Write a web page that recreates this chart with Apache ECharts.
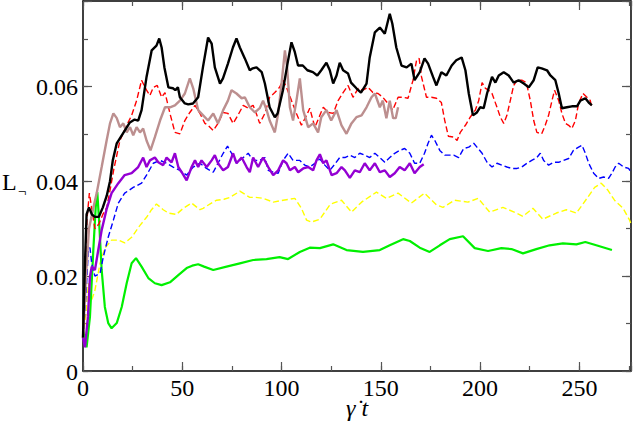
<!DOCTYPE html>
<html>
<head>
<meta charset="utf-8">
<script src="https://cdn.jsdelivr.net/npm/echarts@6/dist/echarts.min.js"></script>
</head>
<body style="margin:0;background:#fff">
<div id="c" style="width:634px;height:427px"></div>
<script>
// ---- data (x = gamma-dot t, y = L) ----
const blackData = [[0,0.007],[0.8,0.02],[1.8,0.033],[3,0.0345],[4.5,0.033],[6,0.0325],[8,0.0325],[10,0.0345],[12,0.037],[13.6,0.040],[15,0.0444],[17,0.048],[20,0.050],[23.6,0.0524],[26,0.053],[27.8,0.0528],[29.5,0.055],[32,0.062],[34.6,0.0676],[37,0.0686],[38.4,0.0701],[39.6,0.0682],[41,0.064],[43,0.0598],[45.3,0.0596],[46.5,0.0592],[47.8,0.0598],[48.8,0.0577],[51.3,0.0564],[53,0.0562],[55.4,0.0564],[58,0.0577],[60.4,0.064],[63,0.0703],[64.8,0.069],[66.4,0.064],[69,0.0606],[70.5,0.0617],[73,0.0648],[75.5,0.0682],[77.3,0.0701],[79,0.0682],[81.5,0.0659],[84,0.0634],[85.5,0.0638],[87.4,0.064],[90,0.063],[91.6,0.0606],[94,0.0556],[96.6,0.0535],[98,0.0543],[100.7,0.0592],[103,0.0648],[105,0.0693],[106.7,0.0672],[108.3,0.0644],[110.7,0.0644],[113,0.0634],[115.8,0.063],[118,0.0623],[120,0.0634],[122.6,0.065],[124.3,0.0634],[126,0.0606],[127.7,0.0623],[129.3,0.065],[131,0.0634],[133.5,0.0627],[135,0.0608],[137.7,0.0596],[140,0.0587],[142.8,0.0606],[144.4,0.0661],[147,0.0714],[149.5,0.0724],[152,0.0711],[154.5,0.0753],[155.8,0.0732],[157.8,0.0682],[160.4,0.0644],[163,0.064],[165.4,0.0648],[167,0.0613],[169.6,0.063],[172,0.0659],[173.8,0.0648],[176.3,0.062],[178,0.0602],[180.5,0.063],[183,0.0623],[185.7,0.0644],[188,0.0655],[190.7,0.0661],[192.6,0.0634],[194.3,0.0585],[196.4,0.0539],[198.4,0.0545],[200,0.0556],[201.8,0.0554],[203.5,0.0585],[206,0.062],[207.7,0.0608],[209.4,0.0623],[211.9,0.063],[214.4,0.0623],[216.9,0.0608],[219.4,0.0613],[222,0.0606],[224.5,0.0598],[227,0.0613],[229,0.064],[231,0.0638],[233.7,0.0634],[235.4,0.0623],[237.9,0.0613],[239.6,0.0585],[241.2,0.0554],[243.7,0.0556],[246.2,0.0558],[248.8,0.0558],[250.5,0.057],[253,0.0575],[254.7,0.0566],[256.3,0.056]];

const redData = [[0,0.008],[1,0.02],[2,0.032],[3.2,0.0375],[4.5,0.034],[6,0.030],[8,0.031],[10,0.033],[12,0.0345],[14,0.039],[15.5,0.0425],[18.6,0.0486],[22,0.0518],[24.5,0.0539],[27,0.057],[29.5,0.0613],[32,0.0592],[33.7,0.0581],[35.4,0.0598],[37.4,0.0602],[39.6,0.0577],[41.3,0.0587],[43.8,0.0543],[46.3,0.0503],[48.8,0.050],[51.3,0.0528],[53.8,0.0545],[56.4,0.056],[58.9,0.0543],[61.4,0.0522],[63,0.0518],[65.6,0.0507],[68,0.0522],[70.6,0.0545],[73,0.0543],[75.6,0.0522],[78,0.0539],[80.7,0.056],[83.2,0.0554],[85.7,0.056],[87.5,0.054],[89,0.0522],[91.6,0.0543],[94,0.0577],[96.6,0.0587],[99,0.0598],[100.8,0.0613],[102.5,0.0598],[105,0.057],[107.5,0.0543],[110,0.0518],[112.6,0.0539],[114.2,0.0554],[116.8,0.0514],[119.3,0.0539],[121,0.0556],[123.5,0.0545],[126,0.0543],[128.5,0.057],[131,0.0587],[133.5,0.0602],[136,0.0577],[138.6,0.0596],[141,0.0592],[143.6,0.0598],[146,0.0587],[148.6,0.0585],[151,0.0577],[153.6,0.0564],[156,0.055],[158.7,0.0577],[161.2,0.0577],[163.7,0.0575],[166.2,0.0613],[168,0.0655],[169.3,0.0659],[170.5,0.062],[173,0.0577],[175.5,0.0577],[178,0.0575],[180.5,0.0566],[182.2,0.0528],[184,0.0495],[186.7,0.0493],[188.4,0.0486],[190,0.0503],[192.6,0.0518],[195,0.0535],[197.6,0.055],[199.3,0.057],[201,0.0608],[202.7,0.0596],[204.3,0.0592],[206,0.0585],[208.5,0.0556],[210.2,0.0535],[211.9,0.0522],[213.5,0.0539],[215.2,0.057],[216.9,0.0602],[218.6,0.0613],[221,0.0613],[223.3,0.0608],[225.3,0.057],[227,0.0528],[228.6,0.0503],[231,0.050],[232.8,0.0518],[234.5,0.0539],[236.2,0.057],[237.5,0.0592],[239.6,0.057],[241.2,0.0543],[243,0.0522],[244.6,0.0518],[246.2,0.0511],[248,0.0528],[249.6,0.0564],[251.8,0.0585],[253.8,0.0577],[255.5,0.057],[256.3,0.0554]];

const brownData = [[0,0.007],[1.5,0.02],[3,0.03],[5,0.034],[6.9,0.0375],[9.4,0.043],[11.9,0.0486],[13.6,0.0522],[15.3,0.0543],[17,0.0533],[18.6,0.0514],[20.3,0.0522],[22,0.0503],[23.7,0.0514],[25.3,0.0497],[27,0.0514],[28.7,0.0503],[30.3,0.0511],[32,0.0486],[34,0.0465],[36.2,0.0493],[38.8,0.0528],[41.3,0.0556],[43.8,0.0556],[46.3,0.056],[48.8,0.057],[51.3,0.0585],[53.8,0.0617],[55.5,0.0596],[58,0.055],[60.5,0.0539],[63,0.0528],[65.6,0.0543],[68,0.0522],[70.6,0.055],[73,0.057],[74.8,0.0592],[77.3,0.0585],[79.9,0.0575],[81.5,0.0577],[84,0.0556],[86.6,0.0545],[89,0.0554],[90.7,0.057],[92.5,0.055],[94,0.0528],[96.6,0.0503],[98.3,0.0543],[100,0.0606],[101.7,0.0676],[102.8,0.064],[104.2,0.0556],[105.8,0.0528],[107.5,0.057],[109.2,0.0617],[110.9,0.055],[113.4,0.0514],[115.9,0.0522],[118.4,0.0503],[120,0.0535],[122.6,0.055],[125,0.0528],[127.7,0.055],[130.2,0.0518],[132.7,0.050],[135.2,0.0522],[137.7,0.0535],[140.3,0.0539],[142.8,0.0556],[145.3,0.0577],[147,0.0585],[149.5,0.0556],[151,0.057],[152.8,0.0533],[154.5,0.057],[156.2,0.0533],[157.5,0.0533],[158.7,0.0556]];

const purpleData = [[0,0.007],[1,0.005],[2.5,0.0114],[3.5,0.0198],[4.4,0.022],[6,0.0213],[7.7,0.0255],[9.4,0.0297],[12,0.0343],[14.4,0.0375],[17.8,0.0396],[21,0.0413],[24.5,0.0417],[27.8,0.043],[30.3,0.045],[32,0.043],[33.7,0.0444],[36.2,0.045],[37.9,0.044],[40.4,0.0434],[42.1,0.045],[44.6,0.044],[46.3,0.0459],[48,0.043],[49.7,0.0419],[52.2,0.0402],[54.7,0.043],[56.4,0.0444],[58,0.043],[59.7,0.0444],[62.3,0.043],[64.8,0.0444],[66.4,0.0455],[68,0.0438],[70.6,0.0423],[73,0.043],[75.6,0.0459],[77.3,0.0438],[79.9,0.045],[82.4,0.043],[84,0.0419],[85.7,0.045],[88.2,0.043],[90.7,0.045],[93.3,0.043],[95.8,0.0413],[98.3,0.0423],[100.8,0.0444],[102.5,0.0438],[104.2,0.0423],[106.7,0.043],[108.4,0.0419],[110.9,0.0427],[113.4,0.043],[115.9,0.0423],[117.6,0.0444],[119.3,0.0457],[121,0.0438],[122.6,0.0444],[125.2,0.0413],[127.7,0.0417],[130.2,0.043],[131.9,0.0423],[134.4,0.0407],[136.9,0.0423],[139.4,0.0419],[141.9,0.0438],[144.4,0.0423],[147,0.0438],[149.5,0.0419],[152,0.0423],[154.5,0.0409],[157,0.0417],[159.5,0.043],[162,0.0423],[164.6,0.0438],[167,0.0417],[169.6,0.043],[171.6,0.0436]];

const blueData = [[0,0.007],[1.5,0.016],[2.7,0.0255],[3.5,0.026],[4.4,0.0227],[6,0.020],[8.6,0.0206],[10.2,0.024],[12.7,0.0282],[15.3,0.0318],[17.8,0.0354],[21,0.0375],[25.3,0.0387],[29.5,0.0396],[32,0.0413],[35.4,0.0438],[38.8,0.0444],[42,0.0438],[45.4,0.043],[48.8,0.0423],[52.2,0.0413],[55.5,0.043],[58.9,0.0438],[62.2,0.0427],[65.6,0.0419],[68,0.0438],[70.6,0.0459],[72.8,0.0474],[74.8,0.0459],[77.3,0.0438],[80.7,0.045],[83.2,0.0459],[85.7,0.0444],[89,0.0444],[91.6,0.045],[93.3,0.0423],[95.8,0.0419],[98.3,0.0417],[100.8,0.0444],[103.3,0.0459],[105.8,0.0444],[109.2,0.0444],[111.7,0.0434],[114.2,0.043],[116.8,0.0438],[119.3,0.0447],[121.8,0.0434],[124.3,0.0423],[126.8,0.0436],[129.3,0.045],[131.9,0.045],[134.4,0.0455],[136.9,0.045],[139.4,0.0459],[141.9,0.0455],[144.4,0.045],[147,0.0459],[149.5,0.045],[152,0.044],[154.5,0.045],[157,0.0459],[159.5,0.0465],[162,0.0469],[164.6,0.0459],[167,0.0438],[169.6,0.0438],[172,0.0459],[173.8,0.048],[175.5,0.0497],[177.2,0.0486],[179.7,0.0465],[182.2,0.0455],[184.2,0.0455],[186.7,0.0455],[189.2,0.045],[191.7,0.0469],[194.3,0.0472],[196.8,0.048],[198.4,0.0472],[201,0.0459],[203.5,0.044],[206,0.043],[208.5,0.0438],[211,0.0434],[213.5,0.043],[216,0.0427],[218.6,0.0427],[221,0.043],[223.6,0.0438],[226,0.0444],[228.6,0.045],[230.3,0.0459],[232,0.0444],[234.5,0.0434],[237,0.044],[239.6,0.044],[242,0.0444],[244.6,0.0448],[247,0.0465],[249.6,0.0472],[251.3,0.0476],[253,0.0459],[254.7,0.0438],[257.2,0.0417],[259.7,0.0406],[262.2,0.0409],[264.7,0.0406],[266.4,0.0417],[268,0.043],[269.8,0.0438],[272.3,0.043],[274.8,0.0427],[276,0.0419]];

const yellowData = [[0,0.007],[1.5,0.012],[2.7,0.0185],[4.4,0.015],[6,0.017],[8.6,0.0227],[11,0.0259],[14.4,0.0276],[17.8,0.0276],[21,0.027],[24.5,0.0282],[28.7,0.0307],[32,0.0324],[34.5,0.034],[37,0.0352],[40.4,0.034],[43,0.0333],[47,0.033],[50.5,0.0343],[54.7,0.0354],[58.9,0.034],[60.5,0.0343],[65.4,0.0356],[67.3,0.036],[71,0.0362],[74,0.0366],[79,0.0379],[84,0.0366],[87,0.0366],[90.7,0.0364],[95.8,0.0356],[100.8,0.036],[104,0.0362],[106.7,0.0364],[110,0.0343],[112.6,0.0318],[115,0.0314],[119.3,0.032],[124.3,0.035],[126,0.0354],[130.2,0.036],[135.2,0.0335],[140.3,0.0356],[147.8,0.0377],[152.8,0.0364],[158.7,0.0375],[165.4,0.0354],[172,0.0375],[178,0.035],[181.3,0.0345],[187.2,0.036],[193.9,0.0356],[199,0.0364],[204.8,0.0335],[211.5,0.0345],[218.3,0.0333],[221.6,0.0326],[226.6,0.0343],[231.6,0.032],[238.4,0.0333],[243.4,0.034],[248.5,0.0333],[253.5,0.0362],[257.7,0.0387],[261,0.0396],[264.4,0.0381],[267.7,0.036],[272,0.0343],[275.3,0.0318],[276,0.031]];

const greenData = [[0,0.0086],[1.8,0.005],[3.5,0.0114],[5.2,0.0255],[6.4,0.0345],[7.2,0.0377],[8,0.0324],[9.4,0.0213],[11,0.0135],[12.7,0.0101],[14.4,0.009],[17,0.0101],[19.5,0.0135],[22,0.0185],[24.5,0.0227],[26.7,0.0238],[29.5,0.022],[32.9,0.0196],[36.2,0.0185],[39.6,0.0181],[43.8,0.0187],[48,0.0202],[52.2,0.0217],[55,0.0222],[58,0.0225],[61,0.022],[65.6,0.0213],[72.3,0.022],[79,0.0227],[85.7,0.0234],[92.4,0.0236],[99,0.024],[103.3,0.0236],[109.2,0.0251],[114.2,0.026],[119.3,0.0259],[126,0.0267],[132.7,0.0255],[141,0.0251],[149.5,0.0255],[154.5,0.0265],[161.2,0.0278],[164.6,0.0274],[169.6,0.026],[174.6,0.0251],[179.7,0.0265],[184.7,0.0278],[191.4,0.0284],[197.3,0.0259],[204,0.0253],[210.7,0.0259],[215.8,0.0257],[221.6,0.0248],[228.3,0.0257],[235,0.0265],[241.7,0.0269],[248.5,0.0267],[253,0.0272],[258.5,0.0265],[266.4,0.0255]];

const xMin = 0, xMax = 276, xMajor = 50, xMinor = 25;
const yMin = 0, yMax = 0.078, yMajor = 0.02, yMinor = 0.01;
const xTickValues = [0, 50, 100, 150, 200, 250];
const xTickLabels = ['0', '50', '100', '150', '200', '250'];
const yTickValues = [0, 0.02, 0.04, 0.06];
const yTickLabels = ['0', '0.02', '0.04', '0.06'];
const xName = 'γ\u0307 t';
const yName = 'L';
const ySub = '¬';

// ---- chart ----
const FONT = 'serif';
const TICK = '#555';
function xAx(pos, interval, len, line) {
  return {
    type: 'value', position: pos, min: xMin, max: xMax, interval: interval,
    axisLine: {show: line, onZero: false, lineStyle: {color: '#000', width: 1.5}},
    axisTick: {show: true, inside: true, length: len, lineStyle: {color: TICK, width: 1.2}},
    axisLabel: {show: false}, splitLine: {show: false}
  };
}
function yAx(pos, interval, len, line) {
  return {
    type: 'value', position: pos, min: yMin, max: yMax, interval: interval,
    axisLine: {show: line, onZero: false, lineStyle: {color: '#000', width: 1.5}},
    axisTick: {show: true, inside: true, length: len, lineStyle: {color: TICK, width: 1.2}},
    axisLabel: {show: false}, splitLine: {show: false}
  };
}
function line(data, color, width, dash, z) {
  return {
    type: 'line', data: data, xAxisIndex: 0, yAxisIndex: 0, showSymbol: false, symbol: 'none',
    smooth: false, z: z, silent: true,
    lineStyle: {color: color, width: width, type: dash ? [6, 3] : 'solid'}
  };
}
function txtAt(s, x, y, size, italic, align, valign) {
  const st = {text: s, fontSize: size, fontFamily: FONT, fill: '#000',
    align: align, verticalAlign: valign, textAlign: align, textVerticalAlign: valign};
  if (italic) st.fontStyle = 'italic';
  return {type: 'text', x: x, y: y, silent: true, z: 100, style: st};
}

const option = {
  animation: false,
  grid: {left: 83, right: 3, top: 1, bottom: 56, containLabel: false, outerBoundsMode: 'none'},
  xAxis: [
    xAx('bottom', xMajor, 9, true),
    xAx('top', xMajor, 9, true),
    xAx('bottom', xMinor, 5, false),
    xAx('top', xMinor, 5, false)
  ],
  yAxis: [
    yAx('left', yMajor, 9, true),
    yAx('right', yMajor, 9, true),
    yAx('left', yMinor, 5, false),
    yAx('right', yMinor, 5, false)
  ],
  series: [
    line(yellowData, '#ffff00', 1.4, true, 2),
    line(greenData, '#00f000', 2.2, false, 3),
    line(blueData, '#0000ff', 1.4, true, 4),
    line(redData, '#ff0000', 1.4, true, 5),
    line(brownData, '#bc8f8f', 2.4, false, 6),
    line(blackData, '#000000', 2.4, false, 7),
    line(purpleData, '#9400d3', 2.4, false, 8)
  ]
};
const chart = echarts.init(document.getElementById('c'), null, {renderer: 'svg'});
chart.setOption(option);

// tick labels and axis titles placed through the chart's own scales
const x0 = chart.convertToPixel({xAxisIndex: 0}, xMin);
const x1 = chart.convertToPixel({xAxisIndex: 0}, xMax);
const y0 = chart.convertToPixel({yAxisIndex: 0}, yMin);
const texts = [];
xTickValues.forEach(function (v, i) {
  texts.push(txtAt(xTickLabels[i], chart.convertToPixel({xAxisIndex: 0}, v), y0 + 16.5, 24, false, 'center', 'middle'));
});
yTickValues.forEach(function (v, i) {
  texts.push(txtAt(yTickLabels[i], x0 - 5, chart.convertToPixel({yAxisIndex: 0}, v) + 0.5, 24, false, 'right', 'middle'));
});
const yMid = chart.convertToPixel({yAxisIndex: 0}, 0.04);
texts.push(txtAt(yName, 2, yMid + 0.5, 24, false, 'left', 'middle'));
texts.push(txtAt(ySub, 18, yMid + 9.5, 15, false, 'left', 'middle'));
texts.push(txtAt(xName, (x0 + x1) / 2, y0 + 37, 24, true, 'center', 'middle'));
chart.setOption({graphic: texts});
</script>
</body>
</html>
